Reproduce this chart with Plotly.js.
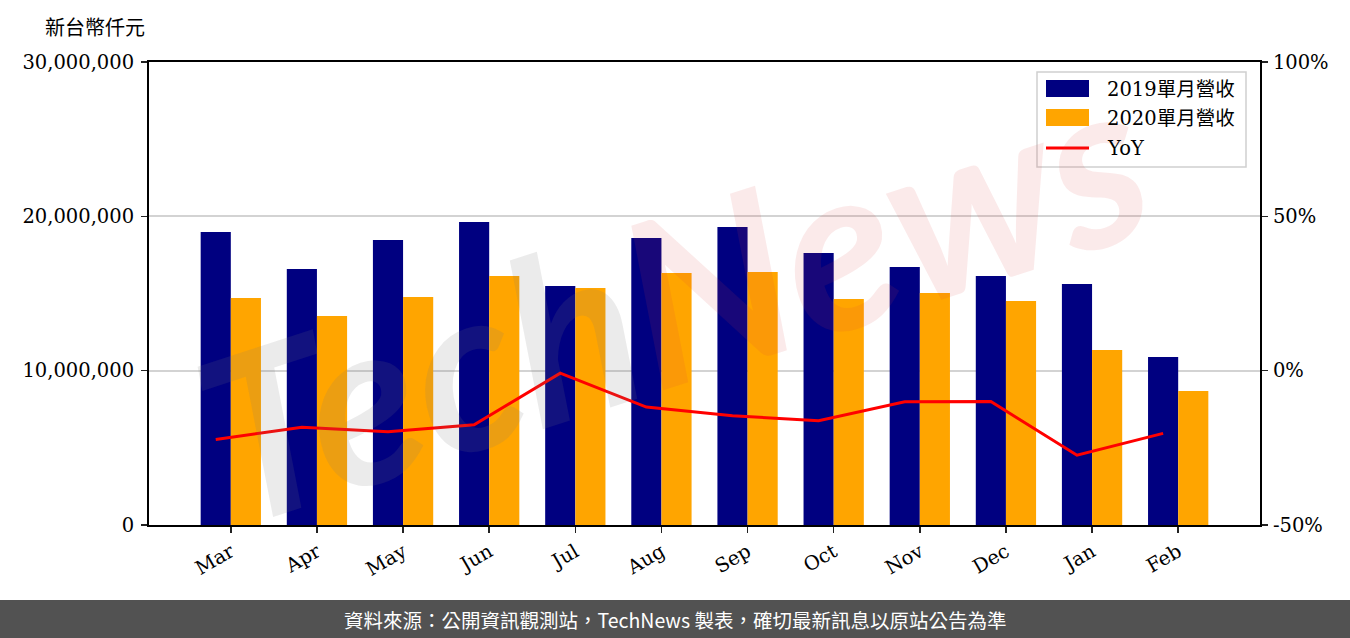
<!DOCTYPE html>
<html>
<head>
<meta charset="utf-8">
<script src="https://cdn.plot.ly/plotly-3.0.1.min.js"></script>
<style>
html,body{margin:0;padding:0;background:#fff;}
#chart{width:1350px;height:638px;}
</style>
</head>
<body>
<div id="chart"></div>
<script>
const months = ["Mar","Apr","May","Jun","Jul","Aug","Sep","Oct","Nov","Dec","Jan","Feb"];
const rev2019 = [18990000,16590000,18470000,19630000,15490000,18600000,19310000,17620000,16720000,16130000,15620000,10890000];
const rev2020 = [14710000,13540000,14770000,16130000,15360000,16330000,16390000,14640000,15030000,14510000,11340000,8680000];
const yoy = [-22.3,-18.3,-19.8,-17.5,-0.8,-11.8,-14.6,-16.2,-10.1,-10.0,-27.4,-20.3];
const seriesNames = ["2019單月營收","2020單月營收","YoY"];
const yoyTickVals = [-50, 0, 50, 100];
const yoyTickText = ["-50%", "0%", "50%", "100%"];

const serif = "DejaVu Serif, Noto Sans CJK TC, serif";
const sans = "Noto Sans CJK TC, Noto Sans, sans-serif";

// plot area in pixels (for converting layout decorations)
const L = 149, R = 1260, T = 62, B = 525;
const px = v => (v - L) / (R - L);
const py = v => (B - v) / (B - T);

const traces = [
  {type:"bar", x:months, y:rev2019, name:seriesNames[0], marker:{color:"#000080"}, hoverinfo:"skip"},
  {type:"bar", x:months, y:rev2020, name:seriesNames[1], marker:{color:"#FFA500"}, hoverinfo:"skip"},
  {type:"scatter", mode:"lines", x:months, y:yoy, name:seriesNames[2], xaxis:"x2", yaxis:"y2",
   line:{color:"#FF0000", width:3}, hoverinfo:"skip"}
];

const tickFont = {family:serif, size:19.5, color:"#000"};
const legendColors = ["#000080", "#FFA500", "#FF0000"];

const shapes = [
  {type:"rect", xref:"paper", yref:"paper", x0:px(0), x1:px(1350), y0:py(600), y1:py(640),
   fillcolor:"#525252", line:{width:0}, layer:"above"},
  // legend box
  {type:"rect", xref:"paper", yref:"paper", x0:px(1037), x1:px(1246), y0:py(72), y1:py(167),
   fillcolor:"rgba(255,255,255,0.8)", line:{color:"#d0d0d0", width:1.5}, layer:"above"},
  {type:"rect", xref:"paper", yref:"paper", x0:px(1046), x1:px(1089), y0:py(80), y1:py(97),
   fillcolor:legendColors[0], line:{width:0}, layer:"above"},
  {type:"rect", xref:"paper", yref:"paper", x0:px(1046), x1:px(1089), y0:py(109), y1:py(126),
   fillcolor:legendColors[1], line:{width:0}, layer:"above"},
  {type:"line", xref:"paper", yref:"paper", x0:px(1046), x1:px(1089), y0:py(148), y1:py(148),
   line:{color:legendColors[2], width:3}, layer:"above"}
];

const annotations = [
  {xref:"paper", yref:"paper", x:px(43), y:py(28), xanchor:"left", yanchor:"middle",
   text:"新台幣仟元", showarrow:false, font:{family:serif, size:20, color:"#000"}},
  {xref:"paper", yref:"paper", x:0.47, y:0.5, xanchor:"center", yanchor:"middle",
   text:"<i><b><span style='color:rgba(120,120,120,0.15)'>Tech</span><span style='color:rgba(215,60,60,0.11)'>News</span></b></i>",
   showarrow:false, textangle:-18, font:{family:"Lato, sans-serif", size:230}},
  {xref:"paper", yref:"paper", x:px(675), y:py(619), xanchor:"center", yanchor:"middle",
   text:"資料來源：公開資訊觀測站，TechNews 製表，確切最新訊息以原站公告為準",
   showarrow:false, font:{family:sans, size:19.5, color:"#ffffff"}}
];
const legendY = [89, 118, 148];
seriesNames.forEach((n, i) => annotations.push({
  xref:"paper", yref:"paper", x:px(1105), y:py(legendY[i]), xanchor:"left", yanchor:"middle",
  text:n, showarrow:false, font:{family:serif, size:19.5, color:"#000"}
}));

const layout = {
  width:1350, height:638,
  margin:{l:L, r:1350-R, t:T, b:638-B, pad:0},
  paper_bgcolor:"#ffffff", plot_bgcolor:"#ffffff",
  barmode:"group", bargap:0.3, bargroupgap:0,
  showlegend:false,
  font:{family:serif, size:19.5, color:"#000"},
  xaxis:{
    type:"category", range:[-0.95, 11.95],
    showline:true, linecolor:"#000", linewidth:2, mirror:true,
    ticks:"outside", ticklen:6, tickwidth:1.5, tickcolor:"#222",
    tickangle:-30, tickfont:tickFont,
    showgrid:false, zeroline:false, fixedrange:true
  },
  xaxis2:{
    type:"category", overlaying:"x", range:[-0.95+0.175, 11.95+0.175],
    visible:false, fixedrange:true
  },
  yaxis:{
    range:[0, 30000000], dtick:10000000, tick0:0, tickformat:",",
    showline:true, linecolor:"#000", linewidth:2,
    ticks:"outside", ticklen:6, tickwidth:1.5, tickcolor:"#222",
    ticklabelstandoff:3, tickfont:tickFont,
    showgrid:true, gridcolor:"#d3d3d3", gridwidth:2, zeroline:false, fixedrange:true
  },
  yaxis2:{
    overlaying:"y", side:"right", range:[-50, 100],
    tickmode:"array", tickvals:yoyTickVals, ticktext:yoyTickText,
    showline:true, linecolor:"#000", linewidth:2,
    ticks:"outside", ticklen:6, tickwidth:1.5, tickcolor:"#222",
    ticklabelstandoff:1, tickfont:tickFont,
    showgrid:false, zeroline:false, fixedrange:true
  },
  shapes:shapes,
  annotations:annotations
};

Plotly.newPlot("chart", traces, layout, {displayModeBar:false, staticPlot:true});
</script>
</body>
</html>
